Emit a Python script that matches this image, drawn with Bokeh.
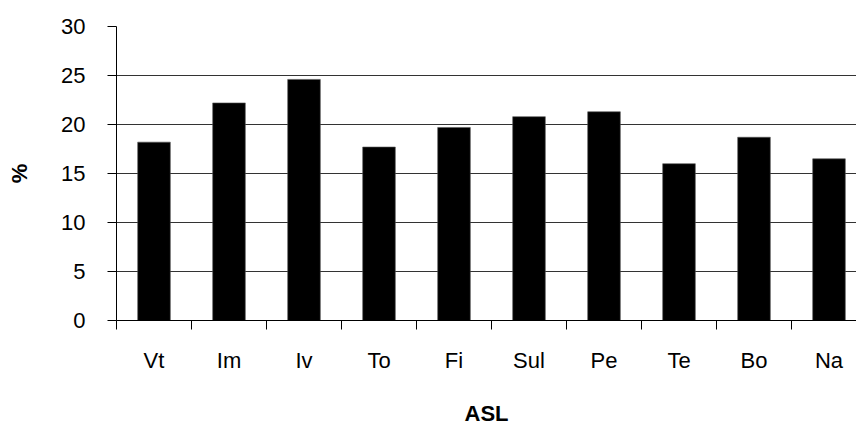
from bokeh.plotting import figure
from bokeh.models import Range1d, FixedTicker
from bokeh.embed import file_html
from bokeh.resources import INLINE

categories = ["Vt", "Im", "Iv", "To", "Fi", "Sul", "Pe", "Te", "Bo", "Na"]
values = [18.2, 22.2, 24.6, 17.7, 19.7, 20.8, 21.3, 16.0, 18.7, 16.5]
y_ticks = [0, 5, 10, 15, 20, 25, 30]

centers = [i + 0.5 for i in range(len(categories))]
bounds = list(range(len(categories) + 1))

FONT = "Liberation Sans"

p = figure(width=856, height=428, output_backend="svg", toolbar_location=None,
           x_range=Range1d(0, 740 / 75.0), y_range=Range1d(0, 30),
           min_border_left=116, min_border_right=0, min_border_top=26,
           min_border_bottom=108)
p.outline_line_color = None
p.background_fill_color = "white"
p.border_fill_color = "white"

p.vbar(x=centers, top=values, width=0.435, bottom=0,
       fill_color="black", line_color="#555555", line_width=0.6)

# x axis
xa = p.xaxis[0]
xa.ticker = FixedTicker(ticks=centers, minor_ticks=bounds)
xa.major_label_overrides = {c: n for c, n in zip(centers, categories)}
xa.major_tick_out = 0
xa.major_tick_in = 0
xa.minor_tick_out = 9
xa.minor_tick_in = 0
xa.minor_tick_line_color = "black"
xa.axis_line_color = "black"
xa.major_label_standoff = 18
xa.major_label_text_font = FONT
xa.major_label_text_font_size = "22px"
xa.major_label_text_color = "black"
xa.axis_label = "ASL"
xa.axis_label_text_font = FONT
xa.axis_label_text_font_size = "22px"
xa.axis_label_text_font_style = "bold"
xa.axis_label_text_color = "black"
xa.axis_label_standoff = 25

# y axis
ya = p.yaxis[0]
ya.ticker = FixedTicker(ticks=y_ticks)
ya.minor_tick_line_color = None
ya.major_tick_out = 9
ya.major_tick_in = 0
ya.major_tick_line_color = "black"
ya.axis_line_color = "black"
ya.major_label_standoff = 22
ya.major_label_text_font = FONT
ya.major_label_text_font_size = "22px"
ya.major_label_text_color = "black"
ya.axis_label = "%"
ya.axis_label_text_font = FONT
ya.axis_label_text_font_size = "22px"
ya.axis_label_text_font_style = "bold"
ya.axis_label_text_color = "black"
ya.axis_label_standoff = 26

p.xgrid.grid_line_color = None
p.ygrid.ticker = FixedTicker(ticks=y_ticks)
p.ygrid.grid_line_color = "#333333"
p.ygrid.grid_line_width = 1

open("out.html", "w").write(file_html(p, INLINE))
